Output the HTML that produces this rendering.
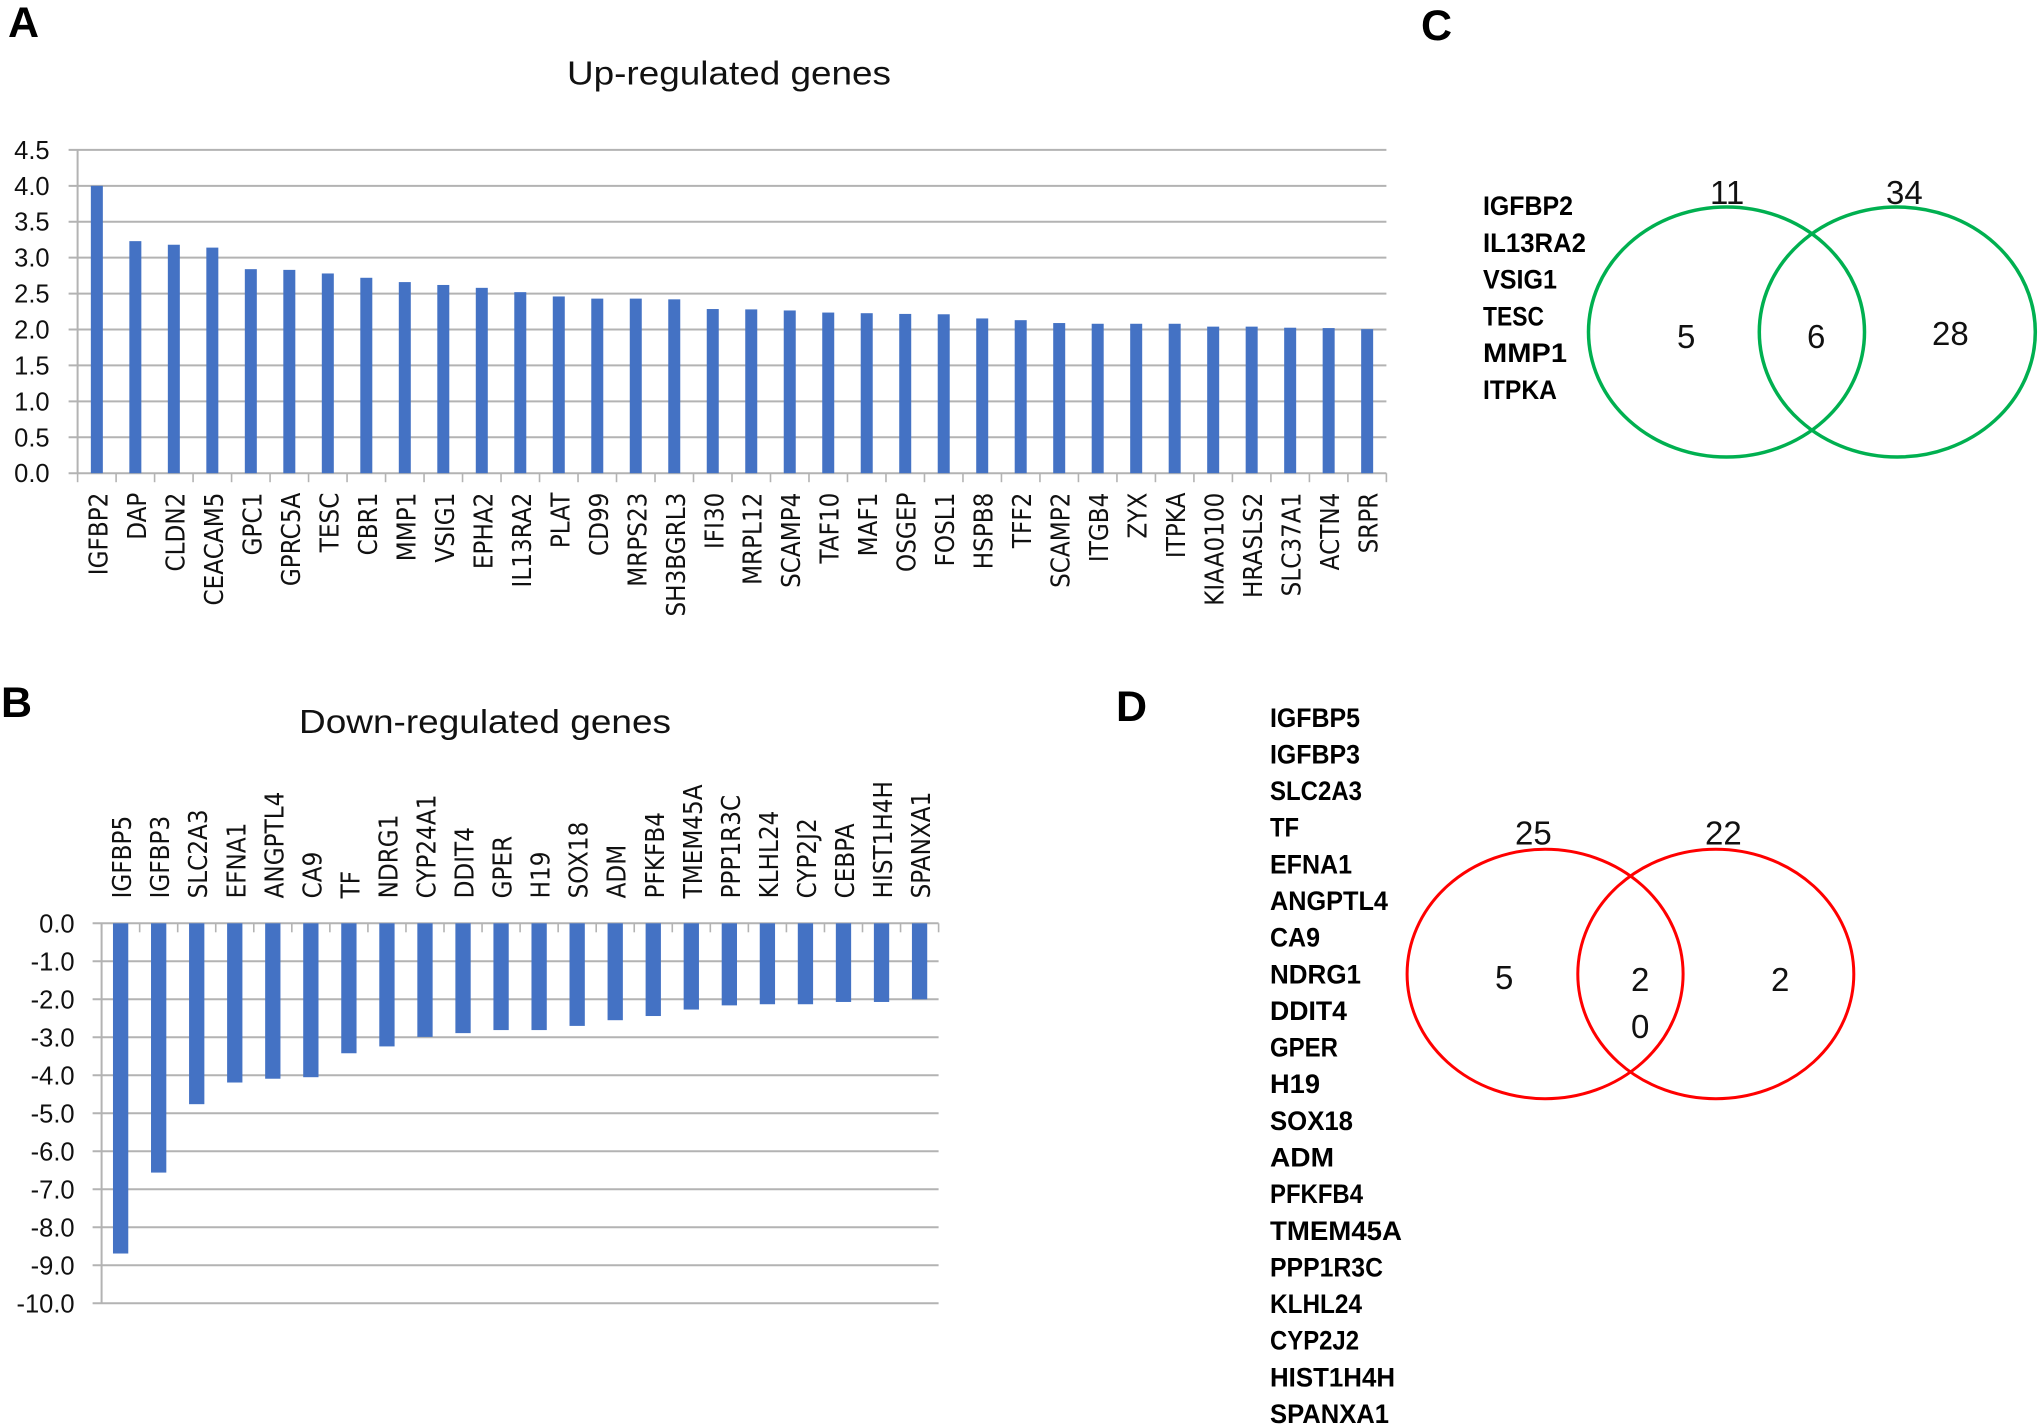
<!DOCTYPE html>
<html lang="en">
<head>
<meta charset="utf-8">
<title>Up- and down-regulated genes</title>
<style>
html,body{margin:0;padding:0;background:#fff;width:2040px;height:1428px;overflow:hidden}
svg{display:block}
text{font-family:"Liberation Sans",Arial,sans-serif;fill:#111}
.panel{font-size:43px;font-weight:700;fill:#000}
.title{font-size:33.5px}
.gene{font-size:26.5px;font-weight:700;fill:#000}
.num{font-size:33px}
.cat{font-family:"DejaVu Sans","Liberation Sans",sans-serif}
</style>
</head>
<body>
<svg id="figure" width="2040" height="1428" viewBox="0 0 2040 1428" xmlns="http://www.w3.org/2000/svg">
  <rect x="0" y="0" width="2040" height="1428" fill="#ffffff"/>
  <text class="panel" x="8" y="37">A</text>
  <text class="panel" x="1" y="717">B</text>
  <text class="panel" x="1421" y="40">C</text>
  <text class="panel" x="1116" y="721">D</text>
  <text class="title" x="567" y="84.5" textLength="324" lengthAdjust="spacingAndGlyphs">Up-regulated genes</text>
  <text class="title" x="299" y="733" textLength="372" lengthAdjust="spacingAndGlyphs">Down-regulated genes</text>
  <g id="chart-a"></g>
  <g id="chart-b"></g>

  <g>
    <ellipse cx="1726.5" cy="332" rx="138" ry="125" fill="none" stroke="#00b050" stroke-width="3.5"/>
    <ellipse cx="1897.3" cy="332" rx="138" ry="125" fill="none" stroke="#00b050" stroke-width="3.5"/>
    <text class="num" x="1710" y="204">11</text>
    <text class="num" x="1886" y="204">34</text>
    <text class="num" x="1677" y="348">5</text>
    <text class="num" x="1807" y="348">6</text>
    <text class="num" x="1932" y="345">28</text>
  </g>
  <g>
    <text class="gene" x="1483" y="215" textLength="90" lengthAdjust="spacingAndGlyphs">IGFBP2</text>
    <text class="gene" x="1483" y="251.8" textLength="103" lengthAdjust="spacingAndGlyphs">IL13RA2</text>
    <text class="gene" x="1483" y="288.6" textLength="74" lengthAdjust="spacingAndGlyphs">VSIG1</text>
    <text class="gene" x="1483" y="325.4" textLength="61" lengthAdjust="spacingAndGlyphs">TESC</text>
    <text class="gene" x="1483" y="362.2" textLength="84" lengthAdjust="spacingAndGlyphs">MMP1</text>
    <text class="gene" x="1483" y="399" textLength="74" lengthAdjust="spacingAndGlyphs">ITPKA</text>
  </g>

  <g>
    <ellipse cx="1545.1" cy="974" rx="138" ry="124.7" fill="none" stroke="#ff0000" stroke-width="3"/>
    <ellipse cx="1715.8" cy="974" rx="138" ry="124.7" fill="none" stroke="#ff0000" stroke-width="3"/>
    <text class="num" x="1515" y="844.6">25</text>
    <text class="num" x="1705" y="844.6">22</text>
    <text class="num" x="1495" y="989">5</text>
    <text class="num" x="1631" y="991">2</text>
    <text class="num" x="1631" y="1038">0</text>
    <text class="num" x="1771" y="991">2</text>
  </g>
  <g>
    <text class="gene" x="1270" y="726.8" textLength="90" lengthAdjust="spacingAndGlyphs">IGFBP5</text>
    <text class="gene" x="1270" y="763.4" textLength="90" lengthAdjust="spacingAndGlyphs">IGFBP3</text>
    <text class="gene" x="1270" y="800.1" textLength="92" lengthAdjust="spacingAndGlyphs">SLC2A3</text>
    <text class="gene" x="1270" y="836.7" textLength="29" lengthAdjust="spacingAndGlyphs">TF</text>
    <text class="gene" x="1270" y="873.4" textLength="82" lengthAdjust="spacingAndGlyphs">EFNA1</text>
    <text class="gene" x="1270" y="910" textLength="118" lengthAdjust="spacingAndGlyphs">ANGPTL4</text>
    <text class="gene" x="1270" y="946.6" textLength="50" lengthAdjust="spacingAndGlyphs">CA9</text>
    <text class="gene" x="1270" y="983.3" textLength="91" lengthAdjust="spacingAndGlyphs">NDRG1</text>
    <text class="gene" x="1270" y="1019.9" textLength="77" lengthAdjust="spacingAndGlyphs">DDIT4</text>
    <text class="gene" x="1270" y="1056.6" textLength="68" lengthAdjust="spacingAndGlyphs">GPER</text>
    <text class="gene" x="1270" y="1093.2" textLength="50" lengthAdjust="spacingAndGlyphs">H19</text>
    <text class="gene" x="1270" y="1129.8" textLength="83" lengthAdjust="spacingAndGlyphs">SOX18</text>
    <text class="gene" x="1270" y="1166.5" textLength="64" lengthAdjust="spacingAndGlyphs">ADM</text>
    <text class="gene" x="1270" y="1203.1" textLength="93" lengthAdjust="spacingAndGlyphs">PFKFB4</text>
    <text class="gene" x="1270" y="1239.8" textLength="132" lengthAdjust="spacingAndGlyphs">TMEM45A</text>
    <text class="gene" x="1270" y="1276.4" textLength="113" lengthAdjust="spacingAndGlyphs">PPP1R3C</text>
    <text class="gene" x="1270" y="1313" textLength="92" lengthAdjust="spacingAndGlyphs">KLHL24</text>
    <text class="gene" x="1270" y="1349.7" textLength="89" lengthAdjust="spacingAndGlyphs">CYP2J2</text>
    <text class="gene" x="1270" y="1386.3" textLength="125" lengthAdjust="spacingAndGlyphs">HIST1H4H</text>
    <text class="gene" x="1270" y="1423" textLength="119" lengthAdjust="spacingAndGlyphs">SPANXA1</text>
  </g>
</svg>
<script>
var upGenes = ["IGFBP2","DAP","CLDN2","CEACAM5","GPC1","GPRC5A","TESC","CBR1","MMP1","VSIG1","EPHA2","IL13RA2","PLAT","CD99","MRPS23","SH3BGRL3","IFI30","MRPL12","SCAMP4","TAF10","MAF1","OSGEP","FOSL1","HSPB8","TFF2","SCAMP2","ITGB4","ZYX","ITPKA","KIAA0100","HRASLS2","SLC37A1","ACTN4","SRPR"];
var upValues = [4.0,3.23,3.18,3.14,2.84,2.83,2.78,2.72,2.66,2.62,2.58,2.52,2.46,2.43,2.43,2.42,2.285,2.28,2.265,2.236,2.227,2.217,2.212,2.154,2.13,2.09,2.08,2.08,2.08,2.04,2.04,2.025,2.02,2.005];
var upTicks = [0,0.5,1,1.5,2,2.5,3,3.5,4,4.5];
var downGenes = ["IGFBP5","IGFBP3","SLC2A3","EFNA1","ANGPTL4","CA9","TF","NDRG1","CYP24A1","DDIT4","GPER","H19","SOX18","ADM","PFKFB4","TMEM45A","PPP1R3C","KLHL24","CYP2J2","CEBPA","HIST1H4H","SPANXA1"];
var downValues = [-8.69,-6.56,-4.76,-4.19,-4.09,-4.05,-3.42,-3.24,-2.99,-2.89,-2.81,-2.81,-2.70,-2.55,-2.44,-2.27,-2.16,-2.13,-2.13,-2.07,-2.07,-2.0];
var downTicks = [0,-1,-2,-3,-4,-5,-6,-7,-8,-9,-10];

var SVG_NS = "http://www.w3.org/2000/svg";
function make(parent, tag, attrs) {
  var el = document.createElementNS(SVG_NS, tag);
  for (var k in attrs) { el.setAttribute(k, attrs[k]); }
  parent.appendChild(el);
  return el;
}
function slug(s) { return s.toLowerCase(); }

function drawChart(root, prefix, cfg) {
  var n = cfg.genes.length;
  var step = (cfg.right - cfg.left) / n;
  function xScale(i) { return cfg.left + i * step; }
  function yScale(v) { return cfg.yZero + (v / cfg.yMax) * (cfg.yTop - cfg.yZero); }

  cfg.ticks.forEach(function (t) {
    var y = yScale(t);
    var grid = make(root, "line", {x1: cfg.left - 9, x2: cfg.right, y1: y, y2: y, stroke: "#b3b3b3", "stroke-width": 2});
    
    
    var lab = make(root, "text", {x: cfg.left - cfg.labelGap, y: y + 9, "text-anchor": "end", "font-size": 25.5});
    
    
    lab.textContent = t.toFixed(1);
  });

  var axis = make(root, "line", {x1: cfg.left, x2: cfg.left, y1: yScale(cfg.ticks[0]), y2: yScale(cfg.ticks[cfg.ticks.length - 1]), stroke: "#b3b3b3", "stroke-width": 2});
  
  

  for (var j = 0; j <= n; j++) {
    var tick = make(root, "line", {x1: xScale(j), x2: xScale(j), y1: cfg.yZero, y2: cfg.yZero + 9, stroke: "#b3b3b3", "stroke-width": 1.6});
    
    
  }

  cfg.genes.forEach(function (g, i) {
    var cx = xScale(i + 0.5);
    var v = cfg.values[i];
    var y1 = yScale(v), y0 = yScale(0);
    var bar = make(root, "rect", {x: cx - cfg.barWidth / 2, y: Math.min(y0, y1), width: cfg.barWidth, height: Math.abs(y1 - y0), fill: "#4472c4"});
    
    
    var tx = cx + 10.5;
    var label = make(root, "text", {
      "class": "cat",
      transform: "translate(" + tx + "," + cfg.labelY + ") rotate(-90) scale(0.89,1)",
      "text-anchor": cfg.labelAnchor, "font-size": 26
    });
    
    
    label.textContent = g;
  });
}

drawChart(document.getElementById("chart-a"), "up", {
  genes: upGenes, values: upValues, ticks: upTicks,
  left: 77.6, right: 1386.4, yZero: 473.2, yTop: 149.9, yMax: 4.5,
  barWidth: 12, labelGap: 28, labelY: 492.6, labelAnchor: "end"
});
drawChart(document.getElementById("chart-b"), "down", {
  genes: downGenes, values: downValues, ticks: downTicks,
  left: 101.6, right: 938.6, yZero: 923.3, yTop: 1303.3, yMax: -10,
  barWidth: 15.3, labelGap: 27, labelY: 898.4, labelAnchor: "start"
});
</script>
</body>
</html>
